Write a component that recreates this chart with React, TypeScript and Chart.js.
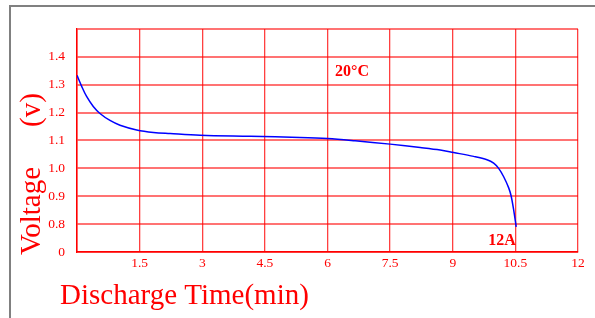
import React, { useEffect, useRef } from "react";
import { Chart, registerables } from "chart.js";

Chart.register(...registerables);

// Discharge time (min) and voltage (V)
const times = [0, 0.11, 0.23, 0.39, 0.55, 0.79, 1.03, 1.43, 1.83, 2.23, 2.95, 4.15, 5.34, 6.0, 6.66, 7.5, 8.22, 8.7, 9.02, 9.5, 9.82, 9.98, 10.1, 10.22, 10.34, 10.4, 10.46, 10.52];
const voltages = [1.334, 1.295, 1.258, 1.222, 1.197, 1.172, 1.155, 1.138, 1.129, 1.125, 1.119, 1.115, 1.111, 1.107, 1.099, 1.087, 1.075, 1.066, 1.057, 1.043, 1.031, 1.019, 1.0, 0.97, 0.93, 0.9, 0.85, 0.79];

// Y axis is broken: bottom gridline represents 0
const yMin = 0.7;
const yMax = 1.5;
const yStep = 0.1;
const xMin = 0;
const xMax = 12;
const xStep = 1.5;

const tempLabel = "20°C";
const tempPos = { x: 6.18, y: 1.345 };
const currentLabel = "12A";
const currentPos = { x: 9.85, y: 0.739 };

const xTitle = "Discharge Time(min)";
const yTitleMain = "Voltage";
const yTitleUnit = "(v)";

const SERIF = "'Liberation Serif', 'Times New Roman', serif";
const RED = "#ff0000";

const decorPlugin = {
  id: "decor",
  beforeDraw(chart: any) {
    const ctx = chart.ctx;
    ctx.save();
    ctx.fillStyle = "#ffffff";
    ctx.fillRect(0, 0, chart.width, chart.height);
    ctx.strokeStyle = "#808080";
    ctx.lineWidth = 2;
    ctx.beginPath();
    ctx.moveTo(10, chart.height);
    ctx.lineTo(10, 6);
    ctx.lineTo(chart.width, 6);
    ctx.stroke();
    ctx.restore();
  },
  afterDraw(chart: any) {
    const ctx = chart.ctx;
    const xs = chart.scales.x;
    const ys = chart.scales.y;
    ctx.save();
    ctx.fillStyle = RED;
    // annotations
    ctx.font = `bold 16px ${SERIF}`;
    ctx.textBaseline = "middle";
    ctx.textAlign = "left";
    ctx.fillText(tempLabel, xs.getPixelForValue(tempPos.x), ys.getPixelForValue(tempPos.y));
    ctx.fillText(currentLabel, xs.getPixelForValue(currentPos.x), ys.getPixelForValue(currentPos.y));
    // x title
    ctx.font = `29px ${SERIF}`;
    ctx.textBaseline = "alphabetic";
    ctx.fillText(xTitle, 60, 304);
    // y title
    ctx.translate(40, 0);
    ctx.rotate(-Math.PI / 2);
    ctx.textAlign = "left";
    ctx.fillText(yTitleMain, -255, 0);
    ctx.fillText(yTitleUnit, -127, 0);
    ctx.restore();
  },
};

export default function App() {
  const ref = useRef<HTMLCanvasElement>(null);
  useEffect(() => {
    if (!ref.current) return;
    const pts = times.map((t, i) => ({ x: t, y: voltages[i] }));
    const chart = new Chart(ref.current, {
      type: "scatter",
      data: {
        datasets: [
          {
            data: pts,
            showLine: true,
            borderColor: "#0000ff",
            borderWidth: 1.5,
            pointRadius: 0,
            tension: 0.35,
            fill: false,
          } as any,
        ],
      },
      options: {
        responsive: false,
        animation: false,
        layout: { padding: { top: 29, right: 17, left: 0, bottom: 0 } },
        plugins: { legend: { display: false }, tooltip: { enabled: false } },
        scales: {
          x: {
            type: "linear",
            min: xMin,
            max: xMax,
            afterFit: (s: any) => {
              s.height = 66;
            },
            ticks: {
              stepSize: xStep,
              color: RED,
              font: { family: SERIF, size: 13.5 },
              padding: 3,
              maxRotation: 0,
              callback: (v: any) => {
                const n = Number(v);
                if (Math.abs(n) < 1e-6) return "";
                return String(Math.round(n * 10) / 10);
              },
            },
            grid: { color: "rgba(255,0,0,0.75)", lineWidth: 1.3, drawTicks: false },
            border: { color: RED, width: 1.5 },
          },
          y: {
            type: "linear",
            min: yMin,
            max: yMax,
            afterFit: (s: any) => {
              s.width = 77;
            },
            ticks: {
              stepSize: yStep,
              color: RED,
              font: { family: SERIF, size: 13.5 },
              padding: 12,
              callback: (v: any) => {
                const n = Number(v);
                if (Math.abs(n - yMin) < 1e-6) return "0";
                if (Math.abs(n - yMax) < 1e-6) return "";
                return n.toFixed(1);
              },
            },
            grid: { color: "rgba(255,0,0,0.55)", lineWidth: 2, drawTicks: false },
            border: { color: RED, width: 1.5 },
          },
        },
      } as any,
      plugins: [decorPlugin],
    });
    return () => chart.destroy();
  }, []);
  return (
    <div style={{ position: "fixed", left: 0, top: 0, width: 595, height: 318, background: "#fff" }}>
      <canvas ref={ref} width={595} height={318} style={{ width: 595, height: 318, display: "block" }} />
    </div>
  );
}
